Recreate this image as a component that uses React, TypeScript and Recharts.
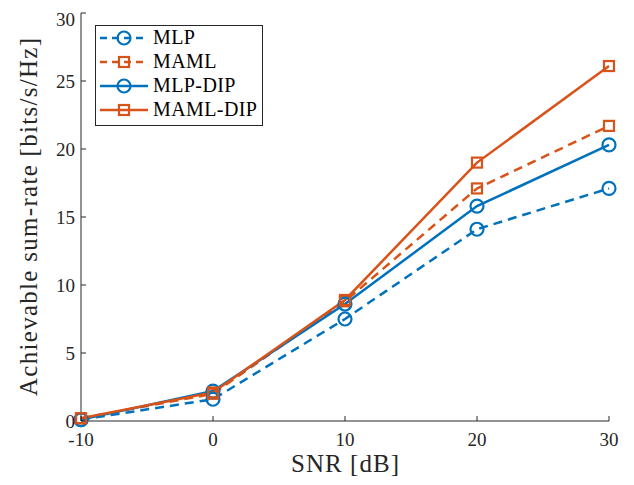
import { LineChart, Line, XAxis, YAxis, Label } from 'recharts';

const snr = [-10, 0, 10, 20, 30];
const mlp = [0.1, 1.6, 7.5, 14.1, 17.1];
const maml = [0.2, 2.0, 8.8, 17.1, 21.7];
const mlpDip = [0.1, 2.2, 8.6, 15.8, 20.3];
const mamlDip = [0.2, 2.1, 8.9, 19.0, 26.1];
const xTicks = [-10, 0, 10, 20, 30];
const yTicks = [0, 5, 10, 15, 20, 25, 30];

const BLUE = '#0072BD';
const ORANGE = '#D95319';
const AXIS = '#262626';
const FONT = 'Liberation Serif, serif';

const data = snr.map((s, i) => ({
  snr: s,
  mlp: mlp[i],
  maml: maml[i],
  mlpDip: mlpDip[i],
  mamlDip: mamlDip[i],
}));

const series = [
  { key: 'mlp', name: 'MLP', color: BLUE, dashed: true, marker: 'circle' },
  { key: 'maml', name: 'MAML', color: ORANGE, dashed: true, marker: 'square' },
  { key: 'mlpDip', name: 'MLP-DIP', color: BLUE, dashed: false, marker: 'circle' },
  { key: 'mamlDip', name: 'MAML-DIP', color: ORANGE, dashed: false, marker: 'square' },
];

function Marker({ cx, cy, color, shape }: any) {
  if (cx == null || cy == null) return null;
  if (shape === 'square') {
    return <rect x={cx - 5} y={cy - 5} width={10} height={10} fill="none" stroke={color} strokeWidth={2.2} />;
  }
  return <circle cx={cx} cy={cy} r={6.5} fill="none" stroke={color} strokeWidth={2.2} />;
}

// legend drawn over the chart so it doesn't shrink the plot area
function LegendBox() {
  return (
    <svg width={168} height={101} style={{ display: 'block' }}>
      <rect x={0.5} y={0.5} width={167} height={100} fill="#fff" stroke={AXIS} strokeWidth={1} />
      {series.map((s, i) => {
        const y = 13 + i * 24;
        return (
          <g key={s.key}>
            <line x1={5} x2={53} y1={y} y2={y} stroke={s.color} strokeWidth={2.5} strokeDasharray={s.dashed ? '7 5' : undefined} />
            <Marker cx={29} cy={y} color={s.color} shape={s.marker} />
            <text x={58} y={y + 6} fontFamily={FONT} fontSize={20} letterSpacing={0.4} fill="#000">
              {s.name}
            </text>
          </g>
        );
      })}
    </svg>
  );
}

const emptyTick = () => <g />;

export default function App() {
  return (
    <div style={{ position: 'relative', width: 618, height: 470 }}>
      <LineChart width={618} height={470} data={data} margin={{ top: 5, right: 17, left: 0, bottom: 0 }}>
        <XAxis
          dataKey="snr"
          type="number"
          domain={[-10, 30]}
          ticks={xTicks}
          height={57}
          tickSize={-5}
          tickMargin={17}
          stroke={AXIS}
          tick={{ fill: AXIS, fontFamily: FONT, fontSize: 19 }}
        >
          <Label
            content={({ viewBox }: any) => (
              <text
                x={viewBox.x + viewBox.width / 2}
                y={viewBox.y + 51}
                textAnchor="middle"
                fontFamily={FONT}
                fontSize={25}
                textLength={108}
                lengthAdjust="spacing"
                fill={AXIS}
              >
                SNR [dB]
              </text>
            )}
          />
        </XAxis>
        <XAxis
          xAxisId="top"
          orientation="top"
          type="number"
          domain={[-10, 30]}
          ticks={xTicks}
          height={0}
          tickSize={-5}
          stroke={AXIS}
          tick={emptyTick}
        />
        <YAxis
          type="number"
          domain={[0, 30]}
          ticks={yTicks}
          width={73}
          tickSize={-5}
          tickMargin={11}
          stroke={AXIS}
          tick={{ fill: AXIS, fontFamily: FONT, fontSize: 19 }}
        >
          <Label
            content={({ viewBox }: any) => {
              const cx = 29;
              const cy = viewBox.y + viewBox.height / 2;
              return (
                <text
                  x={cx}
                  y={cy}
                  transform={`rotate(-90 ${cx} ${cy})`}
                  textAnchor="middle"
                  fontFamily={FONT}
                  fontSize={25}
                  textLength={358}
                  lengthAdjust="spacing"
                  fill={AXIS}
                >
                  Achievable sum-rate [bits/s/Hz]
                </text>
              );
            }}
          />
        </YAxis>
        <YAxis
          yAxisId="right"
          orientation="right"
          type="number"
          domain={[0, 30]}
          ticks={yTicks}
          width={0}
          tickSize={-5}
          stroke={AXIS}
          tick={emptyTick}
        />
        {series.map((s) => (
          <Line
            key={s.key}
            type="linear"
            dataKey={s.key}
            name={s.name}
            stroke={s.color}
            strokeWidth={2.5}
            strokeDasharray={s.dashed ? '9 6' : undefined}
            dot={(p: any) => <Marker key={`${s.key}-${p.index}`} cx={p.cx} cy={p.cy} color={s.color} shape={s.marker} />}
            isAnimationActive={false}
          />
        ))}
      </LineChart>
      <div style={{ position: 'absolute', left: 87, top: 17 }}>
        <LegendBox />
      </div>
    </div>
  );
}
